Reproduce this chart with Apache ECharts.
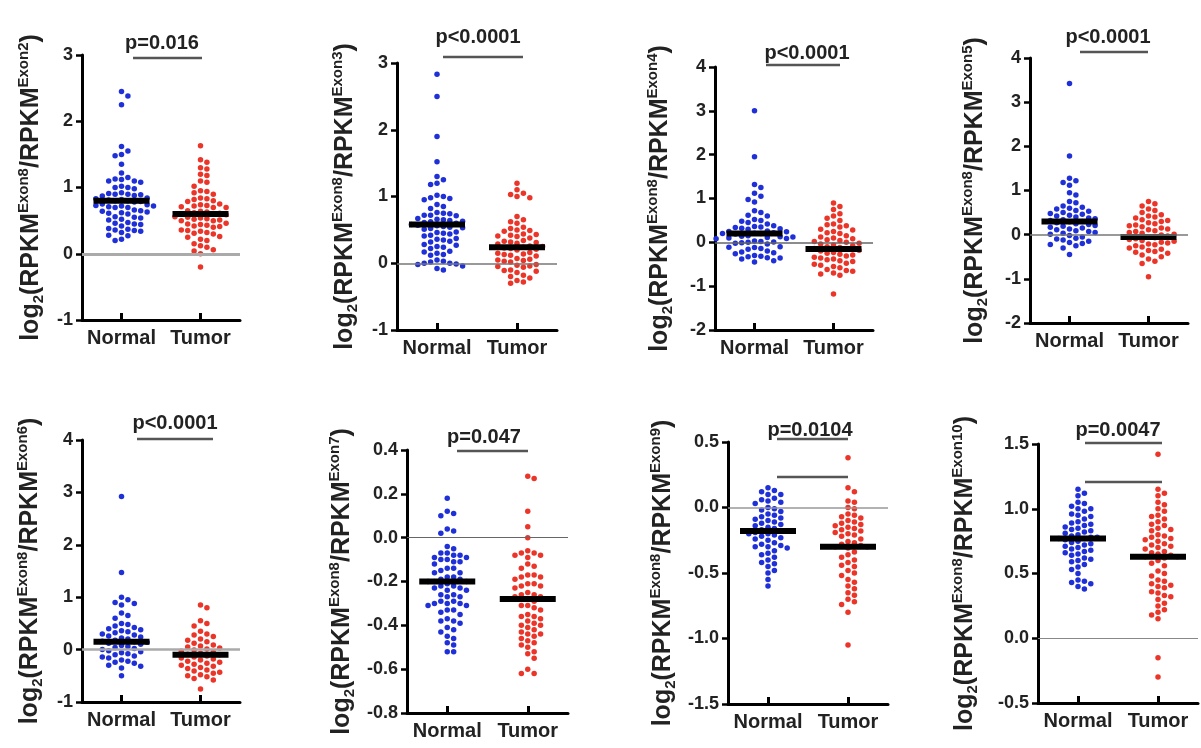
<!DOCTYPE html>
<html>
<head>
<meta charset="utf-8">
<script src="https://cdn.jsdelivr.net/npm/echarts@6/dist/echarts.min.js"></script>
<style>
  html, body { margin: 0; padding: 0; background: #fff; }
  #main { width: 1201px; height: 748px; }
</style>
</head>
<body>
<div id="main"></div>
<script>
// exon in the denominator of each panel
const exons = ['Exon2', 'Exon3', 'Exon4', 'Exon5', 'Exon6', 'Exon7', 'Exon9', 'Exon10']
const groups = ['Normal', 'Tumor']
const pValues = ['p=0.016', 'p<0.0001', 'p<0.0001', 'p<0.0001', 'p<0.0001', 'p=0.047', 'p=0.0104', 'p=0.0047']

// y axis ranges
const yMin = [-1, -1, -2, -2, -1, -0.8, -1.5, -0.5]
const yMax = [3, 3, 4, 4, 4, 0.4, 0.5, 1.5]
const yStep = [1, 1, 1, 1, 1, 0.2, 0.5, 0.5]

// medians (black bars)
const medianNormal = [0.8, 0.58, 0.2, 0.3, 0.15, -0.2, -0.18, 0.77]
const medianTumor = [0.6, 0.24, -0.15, -0.05, -0.1, -0.28, -0.3, 0.63]

// points
const exon2Normal = [2.45, 2.38, 2.25, 1.62, 1.55, 1.5, 1.48, 1.35, 1.22,
  1.15, 1.13, 1.12, 1.1, 1.1, 1.08, 1.02, 1.0, 1.0, 0.98,
  0.92, 0.91, 0.9, 0.9, 0.89, 0.88, 0.87, 0.84, 0.83, 0.82, 0.81, 0.8, 0.8, 0.79, 0.78,
  0.75, 0.74, 0.73, 0.72, 0.72, 0.71, 0.7, 0.7, 0.66, 0.65, 0.64, 0.63, 0.62, 0.61, 0.6,
  0.56, 0.55, 0.54, 0.52, 0.51, 0.47, 0.46, 0.45, 0.44, 0.42,
  0.38, 0.37, 0.36, 0.35, 0.34, 0.32, 0.28, 0.27, 0.22, 0.2]
const exon2Tumor = [1.63, 1.42, 1.38, 1.3, 1.28, 1.2, 1.18, 1.1, 1.08, 1.02,
  0.95, 0.94, 0.92, 0.9, 0.84, 0.83, 0.82, 0.8, 0.79, 0.75, 0.74, 0.73, 0.72, 0.71, 0.7, 0.7,
  0.65, 0.64, 0.63, 0.62, 0.61, 0.6, 0.6, 0.59, 0.56, 0.55, 0.54, 0.53, 0.52, 0.51, 0.5, 0.5,
  0.46, 0.45, 0.44, 0.43, 0.42, 0.41, 0.4, 0.36, 0.35, 0.34, 0.32, 0.31, 0.3,
  0.26, 0.25, 0.22, 0.2, 0.15, 0.12, 0.1, 0.06, 0.04, 0.0, -0.2]

const exon3Normal = [2.83, 2.5, 1.9, 1.52, 1.3, 1.25, 1.2, 1.18,
  1.02, 1.0, 0.98, 0.97, 0.95, 0.88, 0.85, 0.82, 0.76, 0.75, 0.74, 0.72, 0.72, 0.71,
  0.67, 0.66, 0.65, 0.64, 0.63, 0.62, 0.61, 0.6, 0.58, 0.57, 0.56, 0.55, 0.54, 0.53, 0.52, 0.51,
  0.47, 0.46, 0.45, 0.44, 0.42, 0.41, 0.37, 0.36, 0.35, 0.33, 0.32, 0.28, 0.27, 0.25, 0.24, 0.22,
  0.18, 0.17, 0.15, 0.13, 0.12, 0.05, 0.03, 0.02, 0.0, 0.0, -0.01, -0.02, -0.04, -0.08, -0.1]
const exon3Tumor = [1.2, 1.1, 1.05, 1.03, 1.0, 0.98, 0.7, 0.65, 0.62, 0.6,
  0.54, 0.52, 0.5, 0.49, 0.48, 0.44, 0.43, 0.42, 0.41, 0.4, 0.38, 0.34, 0.33, 0.32, 0.31, 0.3, 0.29,
  0.26, 0.25, 0.24, 0.23, 0.22, 0.21, 0.2, 0.16, 0.15, 0.14, 0.13, 0.12, 0.11,
  0.07, 0.06, 0.05, 0.04, 0.03, 0.02, -0.02, -0.03, -0.04, -0.05, -0.06,
  -0.1, -0.11, -0.12, -0.14, -0.18, -0.2, -0.22, -0.26, -0.28, -0.3]

const exon4Normal = [3.0, 1.95, 1.32, 1.25, 1.12, 1.05, 0.98, 0.92, 0.72, 0.68, 0.62, 0.6,
  0.52, 0.5, 0.48, 0.45, 0.42, 0.38, 0.36, 0.35, 0.34, 0.32, 0.31, 0.3,
  0.26, 0.25, 0.24, 0.22, 0.21, 0.2, 0.2, 0.19, 0.15, 0.14, 0.13, 0.12, 0.11, 0.1, 0.09, 0.08,
  0.03, 0.02, 0.01, 0.0, -0.01, -0.02, -0.04, -0.1, -0.11, -0.12, -0.14, -0.16,
  -0.2, -0.22, -0.24, -0.26, -0.3, -0.32, -0.33, -0.35, -0.36, -0.38, -0.42, -0.45]
const exon4Tumor = [0.9, 0.82, 0.75, 0.65, 0.6, 0.55, 0.5, 0.42, 0.4, 0.38, 0.35,
  0.3, 0.28, 0.25, 0.22, 0.2, 0.15, 0.12, 0.1, 0.08, 0.06, 0.04, 0.02,
  0.0, -0.02, -0.04, -0.06, -0.08, -0.1, -0.12, -0.14, -0.16, -0.18, -0.2,
  -0.23, -0.25, -0.27, -0.29, -0.31, -0.34, -0.36, -0.38, -0.4, -0.42, -0.44,
  -0.48, -0.5, -0.52, -0.55, -0.58, -0.62, -0.64, -0.66, -0.7, -0.72, -0.75, -1.18]

const exon5Normal = [3.42, 1.78, 1.28, 1.22, 1.18, 1.12, 0.95, 0.9, 0.75, 0.72,
  0.65, 0.62, 0.6, 0.58, 0.55, 0.53, 0.5, 0.48, 0.46, 0.44, 0.42, 0.4,
  0.38, 0.36, 0.34, 0.32, 0.3, 0.29, 0.27, 0.25, 0.23, 0.21,
  0.19, 0.17, 0.15, 0.13, 0.11, 0.09, 0.07, 0.05, 0.03, 0.01,
  -0.02, -0.05, -0.08, -0.1, -0.12, -0.15, -0.18, -0.2, -0.22, -0.25, -0.3, -0.45]
const exon5Tumor = [0.75, 0.7, 0.65, 0.58, 0.55, 0.5, 0.45, 0.42, 0.4, 0.38,
  0.34, 0.32, 0.3, 0.27, 0.25, 0.22, 0.2, 0.18, 0.15, 0.13, 0.11,
  0.09, 0.07, 0.05, 0.03, 0.01, -0.01, -0.03, -0.05, -0.07, -0.09,
  -0.11, -0.13, -0.15, -0.17, -0.19, -0.21, -0.23, -0.25, -0.28, -0.3,
  -0.33, -0.36, -0.38, -0.4, -0.42, -0.46, -0.5, -0.55, -0.6, -0.65, -0.95]

const exon6Normal = [2.92, 1.47, 1.0, 0.95, 0.9, 0.88, 0.85, 0.7, 0.65, 0.6,
  0.5, 0.48, 0.45, 0.42, 0.4, 0.38, 0.36, 0.34, 0.32, 0.3, 0.28, 0.26, 0.24,
  0.22, 0.2, 0.18, 0.16, 0.15, 0.14, 0.12, 0.1, 0.08, 0.06, 0.04,
  0.02, 0.0, -0.02, -0.04, -0.06, -0.08, -0.1, -0.12, -0.14, -0.16,
  -0.2, -0.22, -0.24, -0.26, -0.3, -0.32, -0.35, -0.5]
const exon6Tumor = [0.85, 0.8, 0.55, 0.5, 0.45, 0.35, 0.3, 0.28, 0.25, 0.2, 0.18, 0.15, 0.12,
  0.09, 0.07, 0.05, 0.03, 0.01, -0.01, -0.03, -0.05, -0.07, -0.09, -0.1,
  -0.12, -0.14, -0.16, -0.18, -0.2, -0.22, -0.24, -0.26,
  -0.28, -0.3, -0.32, -0.34, -0.36, -0.39, -0.41, -0.43, -0.45,
  -0.48, -0.5, -0.52, -0.55, -0.58, -0.75]

const exon7Normal = [0.18, 0.12, 0.11, 0.1, 0.04, 0.03, 0.02, -0.04, -0.05,
  -0.07, -0.07, -0.08, -0.08, -0.09, -0.09, -0.1, -0.1, -0.11, -0.11, -0.12,
  -0.14, -0.14, -0.15, -0.16, -0.16, -0.18, -0.18, -0.19, -0.19, -0.2, -0.2, -0.2, -0.21,
  -0.22, -0.22, -0.23, -0.23, -0.24, -0.24, -0.26, -0.26, -0.27, -0.27,
  -0.29, -0.29, -0.3, -0.3, -0.3, -0.31, -0.31, -0.33, -0.33, -0.34, -0.35,
  -0.37, -0.38, -0.38, -0.39, -0.41, -0.42, -0.43, -0.45, -0.46, -0.48, -0.49, -0.52, -0.52]
const exon7Tumor = [0.28, 0.27, 0.12, 0.05, 0.0, -0.06, -0.07, -0.07, -0.08, -0.08, -0.09,
  -0.12, -0.13, -0.14, -0.17, -0.17, -0.18, -0.18, -0.19, -0.21, -0.21, -0.22, -0.22, -0.23,
  -0.25, -0.26, -0.26, -0.27, -0.27, -0.28, -0.28, -0.29, -0.31, -0.31, -0.32, -0.33,
  -0.35, -0.36, -0.36, -0.37, -0.38, -0.39, -0.4, -0.4, -0.41, -0.42,
  -0.43, -0.44, -0.44, -0.45, -0.46, -0.47, -0.48, -0.49, -0.5,
  -0.52, -0.53, -0.55, -0.6, -0.62, -0.62]

const exon9Normal = [0.15, 0.13, 0.12, 0.1, 0.1, 0.07, 0.06, 0.05, 0.04, 0.03,
  0.0, -0.01, -0.02, -0.03, -0.05, -0.06, -0.07, -0.08, -0.09, -0.1,
  -0.11, -0.12, -0.13, -0.14, -0.15, -0.16, -0.17, -0.18, -0.18, -0.19, -0.2, -0.2,
  -0.21, -0.22, -0.23, -0.24, -0.25, -0.27, -0.28, -0.29, -0.3, -0.3, -0.31,
  -0.33, -0.35, -0.36, -0.38, -0.4, -0.42, -0.43, -0.45, -0.48, -0.5, -0.55, -0.6]
const exon9Tumor = [0.38, 0.15, 0.12, 0.05, 0.04, 0.0, -0.01, -0.05, -0.06, -0.07, -0.08,
  -0.1, -0.11, -0.12, -0.13, -0.14, -0.15, -0.16, -0.17, -0.18, -0.19,
  -0.2, -0.21, -0.22, -0.24, -0.26, -0.27, -0.28, -0.29, -0.3, -0.3, -0.31,
  -0.34, -0.36, -0.38, -0.4, -0.42, -0.44, -0.45, -0.48, -0.5, -0.52,
  -0.55, -0.57, -0.6, -0.62, -0.65, -0.67, -0.7, -0.72, -0.74, -0.8, -1.05]

const exon10Normal = [1.15, 1.12, 1.1, 1.05, 1.04, 1.02, 1.0, 1.0, 0.98, 0.96, 0.95, 0.94, 0.92,
  0.9, 0.89, 0.88, 0.87, 0.86, 0.85, 0.84, 0.83, 0.82, 0.81, 0.8,
  0.79, 0.78, 0.78, 0.77, 0.77, 0.76, 0.75, 0.74, 0.73, 0.72, 0.71, 0.7,
  0.69, 0.68, 0.67, 0.66, 0.65, 0.64, 0.62, 0.61, 0.6, 0.59, 0.57, 0.55, 0.53,
  0.5, 0.45, 0.44, 0.43, 0.42, 0.4, 0.38]
const exon10Tumor = [1.42, 1.15, 1.12, 1.1, 1.05, 1.03, 1.0, 0.98, 0.95, 0.94, 0.92, 0.9,
  0.88, 0.87, 0.85, 0.84, 0.83, 0.8, 0.79, 0.78, 0.77, 0.76, 0.75, 0.73, 0.72, 0.71, 0.7, 0.69,
  0.67, 0.66, 0.65, 0.64, 0.63, 0.63, 0.62, 0.6, 0.58, 0.56, 0.52, 0.5, 0.48,
  0.45, 0.44, 0.42, 0.41, 0.4, 0.39, 0.36, 0.35, 0.33, 0.32, 0.3,
  0.27, 0.25, 0.22, 0.2, 0.18, 0.15, -0.15, -0.3]

const normalData = [exon2Normal, exon3Normal, exon4Normal, exon5Normal, exon6Normal, exon7Normal, exon9Normal, exon10Normal]
const tumorData = [exon2Tumor, exon3Tumor, exon4Tumor, exon5Tumor, exon6Tumor, exon7Tumor, exon9Tumor, exon10Tumor]

// panel boxes (axis corner positions)
const boxes = [
  {left: 82, top: 55, width: 158, height: 265},
  {left: 397, top: 63, width: 160, height: 267},
  {left: 715, top: 67, width: 158, height: 263},
  {left: 1030, top: 58, width: 158, height: 265},
  {left: 82, top: 440, width: 158, height: 262},
  {left: 407, top: 450, width: 161, height: 263},
  {left: 728, top: 442, width: 160, height: 262},
  {left: 1038, top: 444, width: 160, height: 259}
]
const titleGap = [36, 37, 40, 40, 37, 50, 50, 58]
// p value text / bracket lines
const pText = [[162, 43], [478, 37], [807, 53], [1108, 37], [175, 423], [484, 437], [810, 430], [1118, 430]]
const pLines = [
  [[133, 202, 58]],
  [[443, 523, 57]],
  [[766, 840, 65]],
  [[1080, 1148, 52]],
  [[137, 213, 439]],
  [[457, 528, 451]],
  [[777, 848, 439], [777, 848, 477]],
  [[1085, 1162, 443], [1085, 1162, 482]]
]
const zeroStyle = [
  {color: '#aaa', width: 3}, {color: '#777', width: 1.5}, {color: '#666', width: 1.5}, {color: '#777', width: 1.5},
  {color: '#aaa', width: 2.5}, {color: '#666', width: 1.2}, {color: '#999', width: 1.5}, {color: '#888', width: 1.2}
]

const FONT = '"Liberation Sans", Arial, Helvetica, sans-serif'
const BLUE = '#1f30d8'
const RED = '#ec3529'

// simple beeswarm: spread points sideways so they don't overlap
function swarm(vals, center, pxX, pxY) {
  const d = 6.4
  const placed = []
  const sorted = vals.slice().sort((a, b) => b - a)
  return sorted.map(v => {
    const py = v * pxY
    let off = 0
    for (let k = 0; k < 40; k++) {
      const cand = k === 0 ? 0 : (k % 2 ? 1 : -1) * Math.ceil(k / 2) * d
      const hit = placed.some(p => Math.hypot(p[0] - cand, p[1] - py) < d)
      if (!hit) { off = cand; break }
    }
    placed.push([off, py])
    return [center + off / pxX, v]
  })
}

function yTitle(ex) {
  return '{m|log}{s|2}{m|(RPKM}{u|Exon8}{m|/RPKM}{u|' + ex + '}{m|)}'
}

const grid = [], xAxis = [], yAxis = [], series = [], graphic = []

boxes.forEach((b, i) => {
  grid.push({left: b.left, top: b.top, width: b.width, height: b.height})
  const pxX = b.width / 2
  const pxY = b.height / (yMax[i] - yMin[i])

  xAxis.push({
    type: 'value', gridIndex: i, min: 0.5, max: 2.5,
    splitLine: {show: false},
    axisLine: {show: true, onZero: false, lineStyle: {color: '#000', width: 3}},
    axisTick: {show: true, inside: true, length: 7, customValues: [1, 2], lineStyle: {color: '#000', width: 3}},
    axisLabel: {
      customValues: [1, 2], margin: 8,
      color: '#222', fontSize: 20, fontWeight: 'bold', fontFamily: FONT,
      formatter: v => groups[Math.round(v) - 1]
    }
  })

  yAxis.push({
    type: 'value', gridIndex: i, min: yMin[i], max: yMax[i], interval: yStep[i],
    splitLine: {show: false},
    axisLine: {show: true, onZero: false, lineStyle: {color: '#000', width: 3}},
    axisTick: {show: true, length: 6, lineStyle: {color: '#000', width: 2.5}},
    axisLabel: {
      color: '#222', fontSize: 18, fontWeight: 'bold', fontFamily: FONT, margin: 9,
      formatter: v => yStep[i] < 1 ? v.toFixed(1) : String(v)
    },
    name: yTitle(exons[i]),
    nameLocation: 'middle', nameRotate: 90, nameGap: titleGap[i],
    nameTextStyle: {
      rich: {
        m: {fontSize: 25, fontWeight: 'bold', fontFamily: FONT, color: '#222', lineHeight: 30},
        s: {fontSize: 15, fontWeight: 'bold', fontFamily: FONT, color: '#222', lineHeight: 15, verticalAlign: 'bottom'},
        u: {fontSize: 15, fontWeight: 'bold', fontFamily: FONT, color: '#222', lineHeight: 15, verticalAlign: 'top'}
      }
    }
  })

  series.push({
    type: 'scatter', xAxisIndex: i, yAxisIndex: i, symbolSize: 5.5,
    itemStyle: {color: BLUE, opacity: 1},
    data: swarm(normalData[i], 1, pxX, pxY),
    markLine: {
      silent: true, symbol: 'none', label: {show: false},
      lineStyle: {type: 'solid', color: zeroStyle[i].color, width: zeroStyle[i].width},
      data: [{yAxis: 0}]
    },
    z: 2
  })
  series.push({
    type: 'scatter', xAxisIndex: i, yAxisIndex: i, symbolSize: 5.5,
    itemStyle: {color: RED, opacity: 1},
    data: swarm(tumorData[i], 2, pxX, pxY),
    z: 2
  })
  series.push({
    type: 'scatter', xAxisIndex: i, yAxisIndex: i,
    symbol: 'rect', symbolSize: [56, 6],
    itemStyle: {color: '#000', opacity: 1},
    data: [[1, medianNormal[i]], [2, medianTumor[i]]],
    z: 3
  })

  graphic.push({
    type: 'text', x: pText[i][0], y: pText[i][1],
    style: {
      text: pValues[i], fill: '#222', align: 'center', verticalAlign: 'middle',
      font: 'bold 20px ' + FONT
    }
  })
  pLines[i].forEach(l => {
    graphic.push({
      type: 'line', shape: {x1: l[0], y1: l[2], x2: l[1], y2: l[2]},
      style: {stroke: '#555', lineWidth: 2.5}
    })
  })
})

const chart = echarts.init(document.getElementById('main'))
chart.setOption({
  backgroundColor: '#fff',
  animation: false,
  grid, xAxis, yAxis, series, graphic
})
</script>
</body>
</html>
